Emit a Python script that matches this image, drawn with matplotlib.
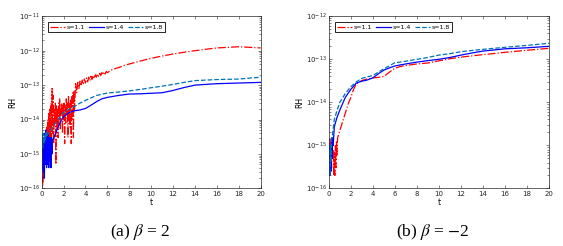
import matplotlib
matplotlib.use('Agg')
import matplotlib.pyplot as plt
from matplotlib.ticker import NullFormatter
import numpy as np

# (a) beta = 2
t_a11 = list(np.round(np.arange(0, 3.01, 0.05), 2)) + list(np.round(np.arange(3.1, 6.01, 0.1), 2)) + \
    [6.5, 7, 7.5, 8, 9, 10, 11, 12, 13, 14, 15, 16, 17, 18, 19, 20]
rh_a11 = [5e-16, 2e-15, 1.2e-16, 3e-15, 2e-16, 2.5e-15, 6e-16, 4e-15, 8e-16, 6e-15,
          1e-15, 1e-14, 1.5e-15, 1.5e-14, 6e-16, 2e-14, 2e-15, 3e-14, 3e-15, 8e-14,
          4e-15, 5e-14, 2e-15, 2e-14, 8e-15, 3e-14, 5e-16, 2.5e-14, 6e-15, 2e-14,
          3e-15, 3e-14, 1e-14, 4e-14, 5e-15, 2e-14, 1.5e-14, 3e-14, 4e-15, 2.5e-14,
          1e-14, 3e-14, 2e-15, 2.5e-14, 8e-15, 4e-14, 1.5e-14, 3e-14, 3e-15, 5e-14,
          1e-14, 3e-14, 6e-15, 4e-14, 2e-15, 5e-14, 1e-14, 6e-14, 3e-15, 7e-14, 2e-14,
          1.1e-13, 6e-14, 1.2e-13, 8e-14, 1.3e-13, 9.5e-14, 1.4e-13, 1.05e-13, 1.5e-13, 1.15e-13,
          1.6e-13, 1.25e-13, 1.7e-13, 1.35e-13, 1.8e-13, 1.45e-13, 1.9e-13, 1.55e-13, 2e-13, 1.7e-13,
          2.1e-13, 1.8e-13, 2.2e-13, 1.9e-13, 2.3e-13, 2e-13, 2.4e-13, 2.1e-13, 2.5e-13, 2.3e-13,
          2.9e-13, 3.2e-13, 3.7e-13, 4.1e-13, 5e-13, 6e-13, 7e-13, 8e-13, 9e-13, 1e-12,
          1.1e-12, 1.2e-12, 1.25e-12, 1.3e-12, 1.25e-12, 1.2e-12]

t_a14 = list(np.round(np.arange(0, 1.01, 0.05), 2)) + \
    [1.2, 1.5, 1.75, 2, 2.5, 3, 3.5, 4, 4.5, 5, 5.5, 6, 7, 8, 9, 10, 11, 12, 13, 14, 15, 16, 18, 20]
rh_a14 = [3e-15, 4e-16, 2e-15, 3e-16, 3e-15, 2e-16, 4e-15, 5e-16, 5e-15, 4e-16, 3e-15,
          5e-16, 4e-15, 4e-16, 3e-15, 8e-16, 3e-15, 4e-16, 3e-15, 1e-15, 2.5e-15,
          3.5e-15, 6e-15, 9e-15, 1.2e-14, 1.6e-14, 1.8e-14, 1.9e-14, 2.1e-14, 2.6e-14, 3.3e-14,
          4e-14, 4.4e-14, 5e-14, 5.5e-14, 5.6e-14, 5.8e-14, 6e-14, 7e-14, 8.5e-14, 1e-13,
          1.05e-13, 1.1e-13, 1.15e-13, 1.2e-13]

t_a18 = list(np.round(np.arange(0, 0.51, 0.05), 2)) + \
    [0.75, 1, 1.5, 2, 2.5, 3, 3.5, 4, 5, 6, 7, 8, 9, 10, 11, 12, 13, 14, 15, 16, 18, 20]
rh_a18 = [2e-15, 3.5e-15, 1.5e-15, 4e-15, 2e-15, 3.5e-15, 2.5e-15, 4e-15, 3e-15, 4.5e-15, 3.5e-15,
          4.5e-15, 6e-15, 1e-14, 1.6e-14, 2e-14, 2.4e-14, 3e-14, 3.6e-14, 5e-14, 5.9e-14,
          6.3e-14, 6.8e-14, 7.5e-14, 8.4e-14, 9.3e-14, 1.05e-13, 1.2e-13, 1.35e-13, 1.4e-13,
          1.45e-13, 1.5e-13, 1.7e-13]

# (b) beta = -2
t_b11 = list(np.round(np.arange(0, 0.81, 0.05), 2)) + \
    [1, 1.25, 1.5, 1.75, 2, 2.25, 2.5, 3, 3.5, 4, 4.5, 5, 5.5, 6, 6.5, 7, 8, 9, 10, 11, 12, 13, 14, 16, 18, 20]
rh_b11 = [1e-15, 3e-16, 1.5e-15, 4e-16, 1.2e-15, 3e-16, 1e-15, 5e-16, 8e-16, 2e-16, 7e-16,
          2e-16, 1e-15, 3e-16, 1.2e-15, 6e-16, 1.5e-15,
          2.2e-15, 3.5e-15, 5.6e-15, 9e-15, 1.3e-14, 2e-14, 2.7e-14, 3.2e-14, 3.5e-14, 3.7e-14,
          3.8e-14, 4e-14, 5e-14, 6.2e-14, 6.8e-14, 7.2e-14, 7.8e-14, 8.2e-14, 9.2e-14, 1.03e-13,
          1.12e-13, 1.2e-13, 1.28e-13, 1.45e-13, 1.62e-13, 1.8e-13]

t_b14 = list(np.round(np.arange(0, 0.41, 0.05), 2)) + \
    [0.5, 0.75, 1, 1.5, 2, 2.5, 3, 3.5, 4, 4.5, 5, 5.5, 6, 7, 8, 9, 10, 11, 12, 13, 14, 16, 18, 20]
rh_b14 = [5e-16, 1e-15, 2e-16, 8e-16, 2.5e-16, 1.2e-15, 5e-16, 1.5e-15, 1e-15,
          2.7e-15, 4.5e-15, 6.6e-15, 1.3e-14, 2e-14, 2.8e-14, 3.1e-14, 3.3e-14, 3.7e-14, 4.6e-14,
          5.6e-14, 6.3e-14, 7e-14, 7.8e-14, 8.6e-14, 9.3e-14, 1e-13, 1.1e-13, 1.25e-13, 1.4e-13,
          1.55e-13, 1.75e-13, 1.85e-13, 2e-13]

t_b18 = list(np.round(np.arange(0, 0.31, 0.05), 2)) + \
    [0.5, 0.75, 1, 1.5, 2, 2.5, 3, 3.5, 4, 5, 6, 7, 8, 9, 10, 11, 12, 13, 14, 16, 18, 20]
rh_b18 = [3e-16, 8e-16, 2e-16, 1e-15, 4e-16, 1.5e-15, 1.5e-15,
          4e-15, 6.5e-15, 1e-14, 1.6e-14, 2.3e-14, 3e-14, 3.6e-14, 3.9e-14, 4.2e-14, 6e-14,
          8.3e-14, 9e-14, 1e-13, 1.1e-13, 1.25e-13, 1.35e-13, 1.5e-13, 1.6e-13, 1.7e-13,
          1.9e-13, 2.1e-13, 2.35e-13]

labels = ['s=1.1', 's=1.4', 's=1.8']
x_ticks = [0, 2, 4, 6, 8, 10, 12, 14, 16, 18, 20]

fig = plt.figure(figsize=(5.63, 2.46), dpi=100)
ax1 = fig.add_axes([0.074, 0.234, 0.389, 0.70])
ax2 = fig.add_axes([0.584, 0.234, 0.391, 0.70])

panels = [
    (ax1, (t_a11, rh_a11), (t_a14, rh_a14), (t_a18, rh_a18), (-16, -11)),
    (ax2, (t_b11, rh_b11), (t_b14, rh_b14), (t_b18, rh_b18), (-16, -12)),
]

for ax, s11, s14, s18, (e0, e1) in panels:
    ax.plot(s11[0], s11[1], color='#ff0000', linestyle='-.', linewidth=0.9, label=labels[0])
    ax.plot(s14[0], s14[1], color='#0000ff', linestyle='-', linewidth=0.9, label=labels[1])
    ax.plot(s18[0], s18[1], color='#0072bd', linestyle='--', linewidth=0.9, label=labels[2])
    ax.set_yscale('log')
    ax.set_xlim(0, 20)
    ax.set_ylim(10.0 ** e0, 10.0 ** e1)
    ax.set_xticks(x_ticks)
    ax.set_yticks([10.0 ** e for e in range(e0, e1 + 1)])
    ax.set_yticks([m * 10.0 ** e for e in range(e0, e1) for m in range(2, 10)], minor=True)
    ax.yaxis.set_minor_formatter(NullFormatter())
    ax.tick_params(which='both', direction='in', top=True, right=True, labelsize=5,
                   width=0.4, pad=1.5, colors='#262626')
    ax.tick_params(which='major', length=2.5)
    ax.tick_params(which='minor', length=1.3)
    for sp in ax.spines.values():
        sp.set_linewidth(0.5)
        sp.set_color('#262626')
    ax.set_xlabel('t', fontsize=5.5, labelpad=1)
    ax.set_ylabel('RH', fontsize=5.5, labelpad=1)
    leg = ax.legend(loc='upper left', ncol=3, fontsize=4.5, frameon=True, fancybox=False,
                    edgecolor='black', framealpha=1, handlelength=2.4, handletextpad=0.3,
                    columnspacing=0.6, borderpad=0.35, borderaxespad=1.0)
    leg.get_frame().set_linewidth(0.6)

fig.text(0.25, 0.055, r'(a) $\mathit{\beta}$ = 2', ha='center', va='center',
         fontsize=12.5, family='Liberation Serif', math_fontfamily='stix')
fig.text(0.768, 0.055, r'(b) $\mathit{\beta}$ = $-$2', ha='center', va='center',
         fontsize=12.5, family='Liberation Serif', math_fontfamily='stix')

fig.savefig('out.png', dpi=100)
